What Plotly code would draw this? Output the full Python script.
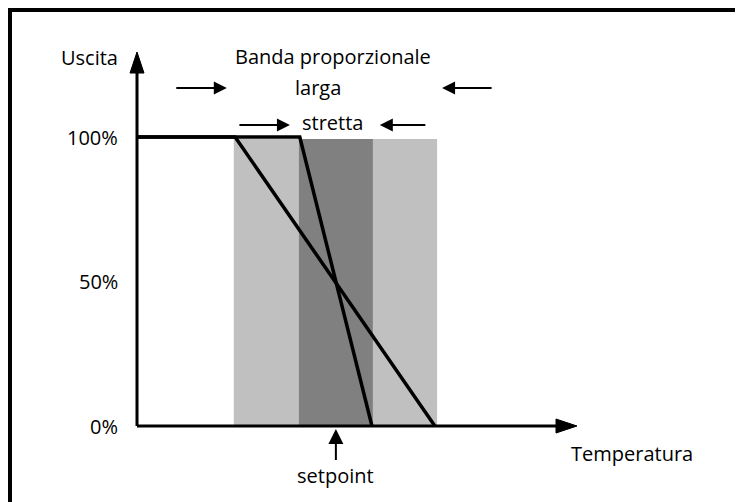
import plotly.graph_objects as go

# ---------------- data ----------------
temp_axis_max = 100          # end of the temperature axis (arrow tip)
output_axis_max = 129.4      # end of the output axis (arrow tip)
output_ticks = [0, 50, 100]
output_tick_labels = ["0%", "50%", "100%"]
setpoint = 45.2
wide_band = [22.0, 68.2]     # banda proporzionale larga
narrow_band = [36.8, 53.6]   # banda proporzionale stretta
band_top = 99.3
wide_line_x = [0, 22.3, 67.7]
wide_line_y = [100, 100, 0]
narrow_line_x = [0, 37.0, 53.4]
narrow_line_y = [100, 100, 0]

# ---------------- geometry ----------------
VIEW_W, VIEW_H = 743, 502
PAGE_OFF = 8                      # default body margin of the page
W, H = VIEW_W - PAGE_OFF, VIEW_H - PAGE_OFF
ORIGIN_X_PX, ORIGIN_Y_PX = 137, 426   # in screenshot pixels
PX_PER_X = 4.4
PX_PER_Y = 2.89
x_range = [(PAGE_OFF - ORIGIN_X_PX) / PX_PER_X, (VIEW_W - ORIGIN_X_PX) / PX_PER_X]
y_range = [(ORIGIN_Y_PX - VIEW_H) / PX_PER_Y, (ORIGIN_Y_PX - PAGE_OFF) / PX_PER_Y]


def px_x(px):
    return (px - ORIGIN_X_PX) / PX_PER_X


def px_y(py):
    return (ORIGIN_Y_PX - py) / PX_PER_Y


FONT = dict(family="Open Sans", size=20, color="#000000")
LIGHT = "#c0c0c0"
DARK = "#808080"

fig = go.Figure()

# bands
shapes = [
    dict(type="rect", xref="x", yref="y", x0=wide_band[0], x1=wide_band[1], y0=0, y1=band_top,
         fillcolor=LIGHT, line=dict(width=0), layer="below"),
    dict(type="rect", xref="x", yref="y", x0=narrow_band[0], x1=narrow_band[1], y0=0, y1=band_top,
         fillcolor=DARK, line=dict(width=0), layer="below"),
]

# lines
for xs, ys in [(wide_line_x, wide_line_y), (narrow_line_x, narrow_line_y)]:
    fig.add_trace(go.Scatter(x=xs, y=ys, mode="lines", line=dict(color="black", width=3.5),
                             hoverinfo="skip", showlegend=False))

# axes with arrow heads
HEAD_L, HEAD_W = 21, 14
shapes += [
    dict(type="line", xref="x", yref="y", x0=0, x1=0, y0=0, y1=output_axis_max - 10 / PX_PER_Y,
         line=dict(color="black", width=3)),
    dict(type="line", xref="x", yref="y", x0=0, x1=temp_axis_max - 10 / PX_PER_X, y0=0, y1=0,
         line=dict(color="black", width=3)),
    dict(type="path", xref="x", yref="y", xsizemode="pixel", ysizemode="pixel",
         xanchor=0, yanchor=output_axis_max,
         path=f"M0,0 L{-HEAD_W/2},{-HEAD_L} L{HEAD_W/2},{-HEAD_L} Z",
         fillcolor="black", line=dict(color="black", width=1)),
    dict(type="path", xref="x", yref="y", xsizemode="pixel", ysizemode="pixel",
         xanchor=temp_axis_max, yanchor=0,
         path=f"M0,0 L{-HEAD_L},{HEAD_W/2} L{-HEAD_L},{-HEAD_W/2} Z",
         fillcolor="black", line=dict(color="black", width=1)),
]

# frame (left and top edges)
shapes += [
    dict(type="line", xref="paper", yref="paper", x0=2 / W, x1=2 / W, y0=0, y1=1,
         line=dict(color="black", width=4)),
    dict(type="line", xref="paper", yref="paper", x0=0, x1=1, y0=1 - 2 / H, y1=1 - 2 / H,
         line=dict(color="black", width=4)),
]

annotations = []
# tick labels
for v, lab in zip(output_ticks, output_tick_labels):
    annotations.append(dict(x=0, y=v, xref="x", yref="y", text=lab, showarrow=False,
                            xanchor="right", yanchor="middle", xshift=-17, font=FONT))

# titles / labels
annotations += [
    dict(x=px_x(89), y=px_y(57), text="Uscita", showarrow=False, font=FONT),
    dict(x=px_x(632), y=px_y(453), text="Temperatura", showarrow=False, font=FONT),
    dict(x=px_x(333), y=px_y(56), text="Banda proporzionale", showarrow=False, font=FONT),
    dict(x=px_x(318), y=px_y(87), text="larga", showarrow=False, font=FONT),
    dict(x=px_x(332), y=px_y(122), text="stretta", showarrow=False, font=FONT),
]

# band arrows
ARR = dict(showarrow=True, arrowhead=2, arrowwidth=2, arrowsize=1.3, arrowcolor="black",
           text="", xref="x", yref="y", ay=0)
annotations += [
    dict(ARR, x=wide_band[0], y=px_y(88), xshift=-7, ax=-52),
    dict(ARR, x=wide_band[1], y=px_y(88), xshift=5, ax=51),
    dict(ARR, x=narrow_band[0], y=px_y(125), xshift=-9, ax=-52),
    dict(ARR, x=narrow_band[1], y=px_y(125), xshift=7, ax=47),
]

# setpoint arrow
annotations.append(dict(x=setpoint, y=0, xref="x", yref="y", yshift=-3, ax=0, ay=46,
                        text="setpoint", showarrow=True, arrowhead=2, arrowwidth=2,
                        arrowsize=1.5, arrowcolor="black", font=FONT))

fig.update_layout(
    width=W, height=H,
    margin=dict(l=0, r=0, t=0, b=0),
    paper_bgcolor="white", plot_bgcolor="white",
    xaxis=dict(range=x_range, visible=False, fixedrange=True),
    yaxis=dict(range=y_range, visible=False, fixedrange=True),
    shapes=shapes,
    annotations=annotations,
    showlegend=False,
)

fig.write_html("out.html")
